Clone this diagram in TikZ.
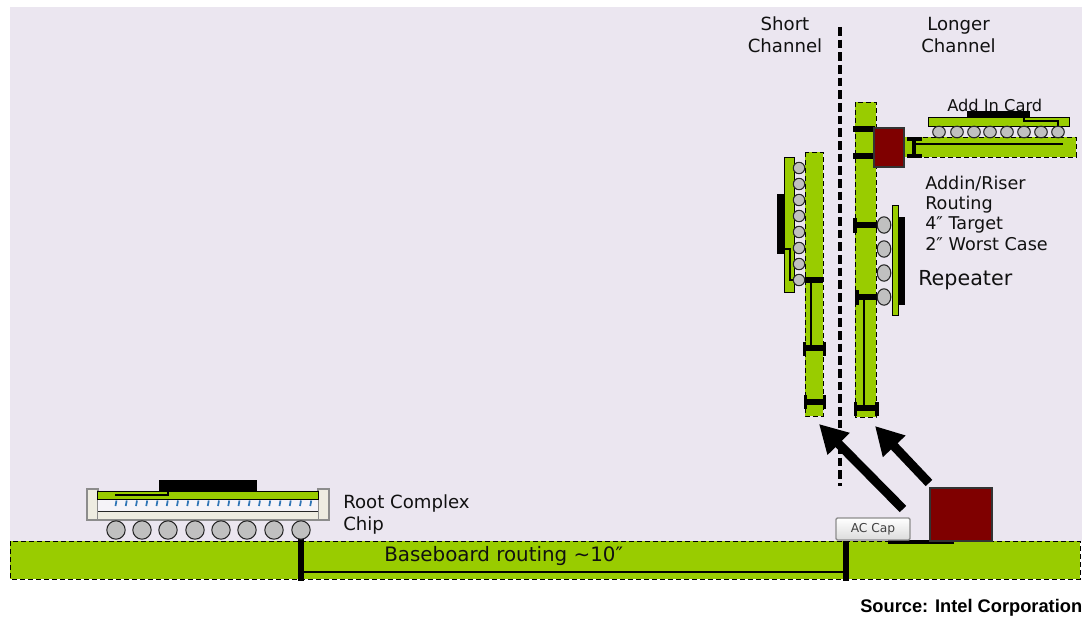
\documentclass[tikz,border=0pt]{standalone}
\usepackage{fontspec}
\setmainfont{DejaVu Sans}
\newfontfamily\srcfont{Liberation Sans}
\usetikzlibrary{arrows.meta,shadings}
\definecolor{bgl}{HTML}{EBE6F0}
\definecolor{pcb}{HTML}{99CC00}
\definecolor{redbox}{HTML}{7F0000}
\definecolor{ball}{HTML}{C0C0C0}
\definecolor{cream}{HTML}{EEECE1}
\definecolor{tick}{HTML}{2E75B6}
\definecolor{txt}{HTML}{111111}
\tikzset{
  board/.style={fill=pcb,draw=black,line width=0.7pt,dash pattern=on 4pt off 2pt},
  chipb/.style={fill=pcb,draw=black,line width=0.7pt},
  die/.style={fill=black,draw=none},
  redpart/.style={fill=redbox,draw=black!80,line width=0.8pt},
  sball/.style={fill=ball,draw=black!85,line width=0.8pt},
  trace/.style={draw=black,line width=2.2pt},
  thin trace/.style={draw=black,line width=0.9pt},
  bar/.style={draw=black,line width=4pt},
  lbl/.style={anchor=west,inner sep=0pt,text=txt,font=\fontsize{13.2pt}{15pt}\selectfont},
  clbl/.style={align=center,inner sep=0pt,text=txt,font=\fontsize{13.6pt}{16.5pt}\selectfont},
  fatarrow/.style={draw=black,line width=6.8pt,-{Triangle[length=21pt,width=22pt]}}
}
\begin{document}
\begin{tikzpicture}[x=0.75pt,y=-0.75pt]
\useasboundingbox (0,0) rectangle (1082,617);
\fill[white] (0,0) rectangle (1082,617);
\fill[bgl] (10,7) rectangle (1082,541);
% baseboard
\path[board] (10,541) rectangle (1080,579);
\draw[bar] (301,538) -- (301,581);
\draw[bar] (846,541) -- (846,581);
\coordinate (bbl) at (301,572); \coordinate (bbr) at (846,572);
\draw[trace] (bbl) -- (bbr);
\draw[line width=2.6pt] (888,542) -- (954,542);
% root complex
\path[draw=black!45,fill=cream,line width=0.8pt] (87,489) rectangle (98,520);
\path[draw=black!45,fill=cream,line width=0.8pt] (318,489) rectangle (329,520);
\fill[white!50!bgl] (98,499) rectangle (318,511);
\path[fill=cream] (98,511) rectangle (318,520);
\draw[black!85,line width=0.7pt] (98,511) -- (318,511);
\draw[black!45,line width=0.8pt] (98,520) -- (318,520);
\path[chipb] (97.5,491) rectangle (318,499);
\fill[die] (159,480) rectangle (257,491);
\draw[thin trace] (115,495) -- (168,495) -- (168,491);
\foreach \i in {0,...,19}
  \draw[tick,line width=1.3pt] ({116.5+10.25*\i},500.5) -- ({115.5+10.25*\i},506);
\foreach \x in {116,142,168,195,221,247,274,301}
  \path[sball] (\x,530) circle (9.2);
% left riser
\path[board] (805,152) rectangle (823,416);
\draw[line width=2.1pt] (811,280) -- (811,348);
\draw[bar] (805,280) -- (823,280);
\draw[bar] (804,348) -- (825,348);
\draw[line width=2.2pt] (804.5,342) -- (804.5,356) (824.5,342) -- (824.5,356);
\draw[bar] (805,402) -- (825,402);
\draw[line width=2.2pt] (805.5,395) -- (805.5,409) (824.5,395) -- (824.5,409);
% left chip
\path[chipb] (784,157) rectangle (794,292);
\fill[die] (777,194) rectangle (784,254);
\draw[thin trace] (784,249) -- (790,249) -- (790,280) -- (796,280);
\foreach \y in {168,184,200,216,232,248,264,280}
  \path[sball] (799,\y) circle (5.7);
% right riser
\path[board] (855,102) rectangle (876,417);
\draw[line width=2.1pt] (864,297) -- (864,408);
\draw[line width=4.6pt] (853,129) -- (875,129) (853,156) -- (875,156);
\draw[bar] (854,225) -- (877,225);
\draw[line width=2.4pt] (855,218) -- (855,233);
\draw[bar] (856,297) -- (878,297);
\draw[line width=2.4pt] (857,290) -- (857,305);
\draw[bar] (855,408) -- (877,408);
\draw[line width=2.4pt] (855.5,402) -- (855.5,416) (877,402) -- (877,416);
% repeater
\path[chipb] (892,205) rectangle (898,315);
\fill[die] (898,217) rectangle (905,305);
\foreach \y in {225,249,273,297}
  \path[sball] (884,\y) ellipse (6.8 and 8.2);
% add in card
\path[board] (904,137) rectangle (1076,157);
\draw[line width=2pt] (914,144) -- (1063,144);
\draw[line width=3.4pt] (914,139) -- (914,156);
\draw[line width=2.8pt] (907,139) -- (922,139) (907,156) -- (922,156);
\path[redpart] (874,128) rectangle (904,167);
\path[chipb] (928,117) rectangle (1069,126);
\fill[die] (967,111) rectangle (1030,117);
\draw[thin trace] (1024,117) -- (1024,121) -- (1058,121) -- (1058,126);
\foreach \x in {939,957,974,990,1007,1024,1041,1058}
  \path[sball] (\x,132) ellipse (6.3 and 5.8);
% big part and cap
\path[redpart] (930,488) rectangle (992,541);
\node[draw=black!45,line width=1.1pt,rounded corners=1pt,top color=white,bottom color=black!14,minimum width=55.5pt,minimum height=16.5pt,inner sep=0pt,text=black!75,font=\fontsize{9.2pt}{10pt}\selectfont] (cap) at (873,529) {AC Cap};
% divider
\coordinate (divt) at (840,27); \coordinate (divb) at (840,486);
\draw[line width=2.3pt,dash pattern=on 6.5pt off 3pt] (divt) -- (divb);
% arrows
\coordinate (a1s) at (903,509); \coordinate (a1e) at (819,424);
\coordinate (a2s) at (929,483); \coordinate (a2e) at (875,426);
\draw[fatarrow] (a1s) -- (a1e);
\draw[fatarrow] (a2s) -- (a2e);
% text
\node[clbl] (tshort) at (785,35) {Short\\Channel};
\node[clbl] (tlong) at (958.5,35) {Longer\\Channel};
\node[lbl,font=\fontsize{12.2pt}{15pt}\selectfont] (tadd) at (947,105) {Add In Card};
\node[lbl] (ta1) at (925,184) {Addin/Riser};
\node[lbl] (ta2) at (925,205) {Routing};
\node[lbl] (ta3) at (925,225) {4″ Target};
\node[lbl] (ta4) at (925,244.5) {2″ Worst Case};
\node[lbl,font=\fontsize{15.5pt}{18pt}\selectfont] (trep) at (918,280.5) {Repeater};
\node[lbl,font=\fontsize{13.6pt}{15pt}\selectfont] (troot) at (343,503) {Root Complex};
\node[lbl,font=\fontsize{13.6pt}{15pt}\selectfont] (tchip) at (343,525) {Chip};
\node[lbl,font=\fontsize{14.9pt}{17pt}\selectfont] (tbase) at (384,556) {Baseboard routing \char"007E 10″};
\node[anchor=west,inner sep=0pt,text=black,font=\srcfont\bfseries\fontsize{13.7pt}{15pt}\selectfont] (tsrc) at (860,608) {Source: Intel Corporation};
\end{tikzpicture}
\end{document}
